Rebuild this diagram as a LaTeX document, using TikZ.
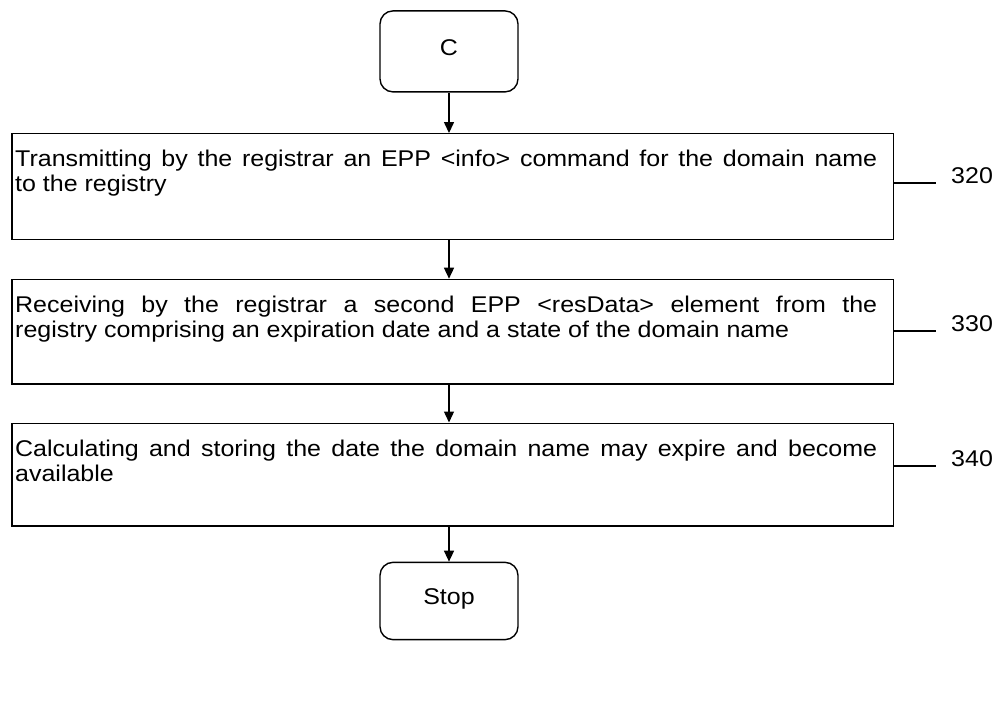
\documentclass[tikz,border=0pt]{standalone}
\usepackage{graphicx}
\usepackage{fontspec}
\setmainfont{Liberation Sans}
\usetikzlibrary{arrows.meta}
\newcommand\figfont{\fontsize{25}{28}\selectfont}
\newcommand\sqz[1]{\scalebox{1}[0.91]{#1}}
\begin{document}
\begin{tikzpicture}[x=1pt,y=-1pt,
  box/.style={draw, line width=1.4pt, inner sep=0pt},
  rbox/.style={box, rounded corners=13pt, minimum width=138pt, text depth=8pt, font=\figfont},
  stepbox/.style={box, minimum width=881.5pt},
  txt/.style={inner sep=0pt, anchor=base west, font=\figfont},
  arr/.style={line width=1.4pt, -{Triangle[length=11pt,width=10pt]}},
  refline/.style={line width=1.4pt},
  reflabel/.style={inner sep=0pt, anchor=base west, font=\figfont}]
\useasboundingbox (0,0) rectangle (999,706);

% boxes
\node[rbox, minimum height=81pt] (C) at (449,51.4) {\sqz{C}};
\node[stepbox, minimum height=105.5pt] (b320) at (452.75,186.5) {};
\node[stepbox, minimum height=104.6pt] (b330) at (452.75,331.7) {};
\node[stepbox, minimum height=102.8pt] (b340) at (452.75,474.6) {};
\node[rbox, minimum height=77.3pt] (S) at (449,601) {\sqz{Stop}};

% texts
\node[txt] (t320a) at (15,166.5) {\sqz{\makebox[862pt][s]{Transmitting by the registrar an EPP <info> command for the domain name}}};
\node[txt] (t320b) at (15,192) {\sqz{to the registry}};
\node[txt] (t330a) at (15,312) {\sqz{\makebox[862pt][s]{Receiving by the registrar a second EPP <resData> element from the}}};
\node[txt] (t330b) at (15,337.5) {\sqz{registry comprising an expiration date and a state of the domain name}};
\node[txt] (t340a) at (15,456) {\sqz{\makebox[862pt][s]{Calculating and storing the date the domain name may expire and become}}};
\node[txt] (t340b) at (15,481.5) {\sqz{available}};

% arrows
\draw[arr] (C.south) -- (C.south |- b320.north);
\draw[arr] (b320.south -| C.south) -- (C.south |- b330.north);
\draw[arr] (b330.south -| C.south) -- (C.south |- b340.north);
\draw[arr] (b340.south -| C.south) -- (S.north);

% reference numerals
\coordinate (y320) at (0,183);
\coordinate (y330) at (0,331);
\coordinate (y340) at (0,466);
\node[reflabel] (l320) at (951,183.5) {\sqz{320}};
\node[reflabel] (l330) at (951,331.5) {\sqz{330}};
\node[reflabel] (l340) at (951,466.5) {\sqz{340}};
\draw[refline] (b320.east |- y320) -- ++(42,0);
\draw[refline] (b330.east |- y330) -- ++(42,0);
\draw[refline] (b340.east |- y340) -- ++(42,0);
\end{tikzpicture}
\end{document}
